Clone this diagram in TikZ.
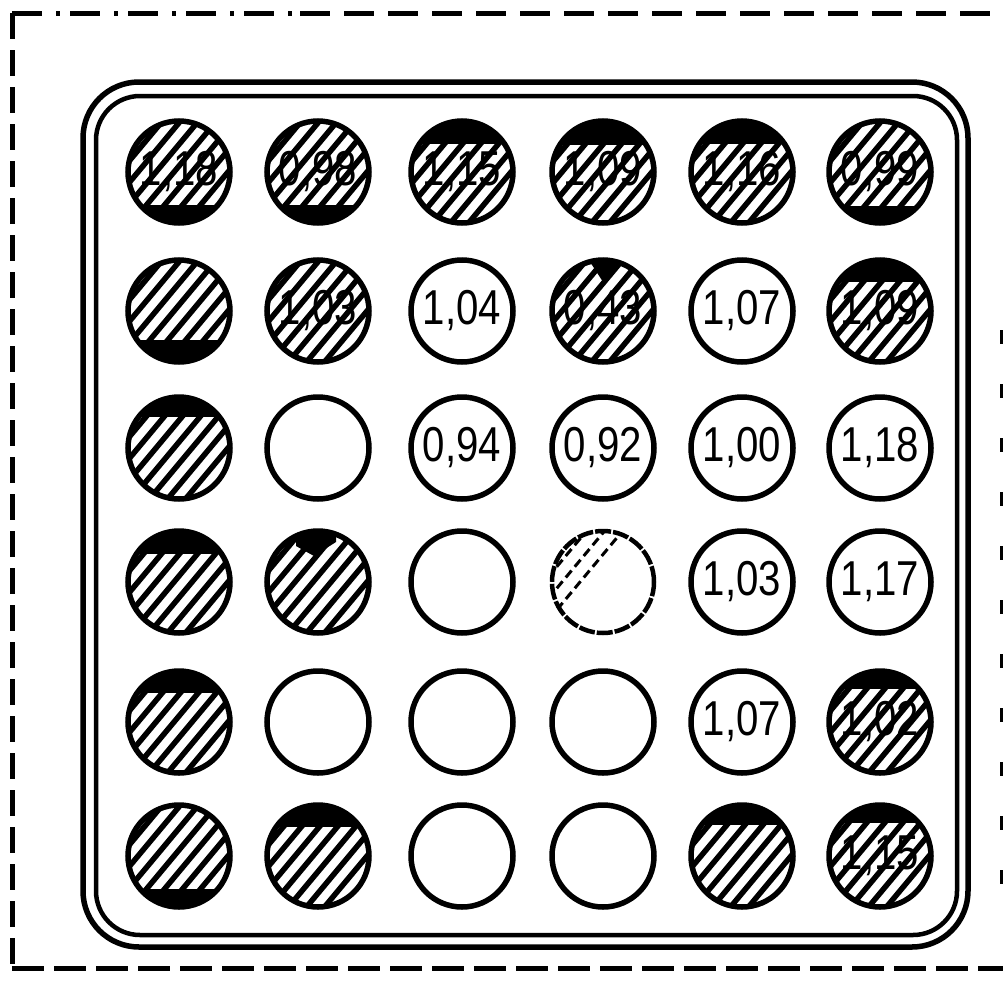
\documentclass[tikz,border=0pt]{standalone}
\usepackage{fontspec}
\newfontfamily\dinfont[FakeStretch=0.82]{Liberation Sans}
\newcommand{\ppc}{path picture bounding box.center}
\newcommand{\hatchL}{\foreach \k in {-6,...,6}{\draw[line width=5.5bp,line cap=butt] ([shift={(\k*18-55,60)}]\ppc) -- ([shift={(\k*18+45,-60)}]\ppc);}}
\newcommand{\faintL}{\foreach \k in {-6,...,-1}{\draw[line width=3bp,dash pattern=on 9bp off 5bp] ([shift={(\k*18-55,60)}]\ppc) -- ([shift={(\k*18+45,-60)}]\ppc);}}
\newcommand{\segT}[1]{\fill ([shift={(-60,-60)}]\ppc) rectangle ([shift={(60,-51+#1)}]\ppc);}
\newcommand{\segB}[1]{\fill ([shift={(-60,51-#1)}]\ppc) rectangle ([shift={(60,60)}]\ppc);}
\begin{document}
\begin{tikzpicture}[x=1bp,y=-1bp,
  circ/.style={circle,draw,line width=5.5bp,minimum size=102bp,inner sep=0pt,
    font=\dinfont\fontsize{49bp}{49bp}\selectfont},
  hatch/.style={circ,path picture={\hatchL}},
  hatchtop/.style={circ,path picture={\hatchL\segT{#1}}},
  hatchbot/.style={circ,path picture={\hatchL\segB{#1}}},
  hatchwedgeA/.style={circ,path picture={\hatchL
     \fill ([shift={(-20,-60)}]\ppc) -- ([shift={(20,-60)}]\ppc) -- ([shift={(2,-26)}]\ppc) -- cycle;}},
  hatchwedgeB/.style={circ,path picture={\hatchL
     \fill ([shift={(-22,-60)}]\ppc) -- ([shift={(18,-60)}]\ppc) -- ([shift={(18,-40)}]\ppc) -- ([shift={(-4,-26)}]\ppc) -- ([shift={(-22,-36)}]\ppc) -- cycle;}},
  faint/.style={circ,line width=4.5bp,dash pattern=on 16bp off 2bp,path picture={\faintL}},
  frame/.style={line width=5bp},
  plate/.style={line width=5.5bp}
]
\useasboundingbox (0,0) rectangle (1003,984);
% dashed frame
\coordinate (ftl) at (12,13);
\coordinate (fbl) at (12,968);
\coordinate (fmid) at (300,13);
\coordinate (ftr) at (1010,13);
\coordinate (fbr) at (1010,968);
\coordinate (frt) at (1001,330);
\coordinate (frb) at (1001,900);
\draw[frame,dash pattern=on 30bp off 14bp on 4bp off 10bp] (ftl) -- (fmid);
\draw[frame,dash pattern=on 30bp off 14bp] (fmid) -- (ftr);
\draw[frame,dash pattern=on 26bp off 11bp] (ftl) -- (fbl);
\draw[frame,dash pattern=on 32bp off 10bp] (fbl) -- (fbr);
\draw[line width=3bp,dash pattern=on 14bp off 40bp] (frt) -- (frb);
% plate
\draw[plate,rounded corners=56bp] (83,82) rectangle (968,947);
\draw[plate,line width=4.5bp,rounded corners=44bp] (96,96) rectangle (957,935);
% row 1
\node[hatchbot=18] (c11) at (179,172) {1,18};
\node[hatchbot=18] (c12) at (318,172) {0,98};
\node[hatchtop=23] (c13) at (462,172) {1,15};
\node[hatchtop=24] (c14) at (603,172) {1,09};
\node[hatchtop=23] (c15) at (742,172) {1,16};
\node[hatchbot=17] (c16) at (880,172) {0,99};
% row 2
\node[hatchbot=22] (c21) at (179,311) {};
\node[hatch] (c22) at (318,311) {1,03};
\node[circ] (c23) at (462,311) {1,04};
\node[hatchwedgeA] (c24) at (603,311) {0,43};
\node[circ] (c25) at (742,311) {1,07};
\node[hatchtop=22] (c26) at (880,311) {1,09};
% row 3
\node[hatchtop=20] (c31) at (179,448) {};
\node[circ] (c32) at (318,448) {};
\node[circ] (c33) at (462,448) {0,94};
\node[circ] (c34) at (603,448) {0,92};
\node[circ] (c35) at (742,448) {1,00};
\node[circ] (c36) at (880,448) {1,18};
% row 4
\node[hatchtop=23] (c41) at (179,582) {};
\node[hatchwedgeB] (c42) at (318,582) {};
\node[circ] (c43) at (462,582) {};
\node[faint] (c44) at (603,582) {};
\node[circ] (c45) at (742,582) {1,03};
\node[circ] (c46) at (880,582) {1,17};
% row 5
\node[hatchtop=22] (c51) at (179,722) {};
\node[circ] (c52) at (318,722) {};
\node[circ] (c53) at (462,722) {};
\node[circ] (c54) at (603,722) {};
\node[circ] (c55) at (742,722) {1,07};
\node[hatchtop=18] (c56) at (880,722) {1,02};
% row 6
\node[hatchbot=18] (c61) at (179,856) {};
\node[hatchtop=22] (c62) at (318,856) {};
\node[circ] (c63) at (462,856) {};
\node[circ] (c64) at (603,856) {};
\node[hatchtop=20] (c65) at (742,856) {};
\node[hatchtop=18] (c66) at (880,856) {1,15};
\end{tikzpicture}
\end{document}
